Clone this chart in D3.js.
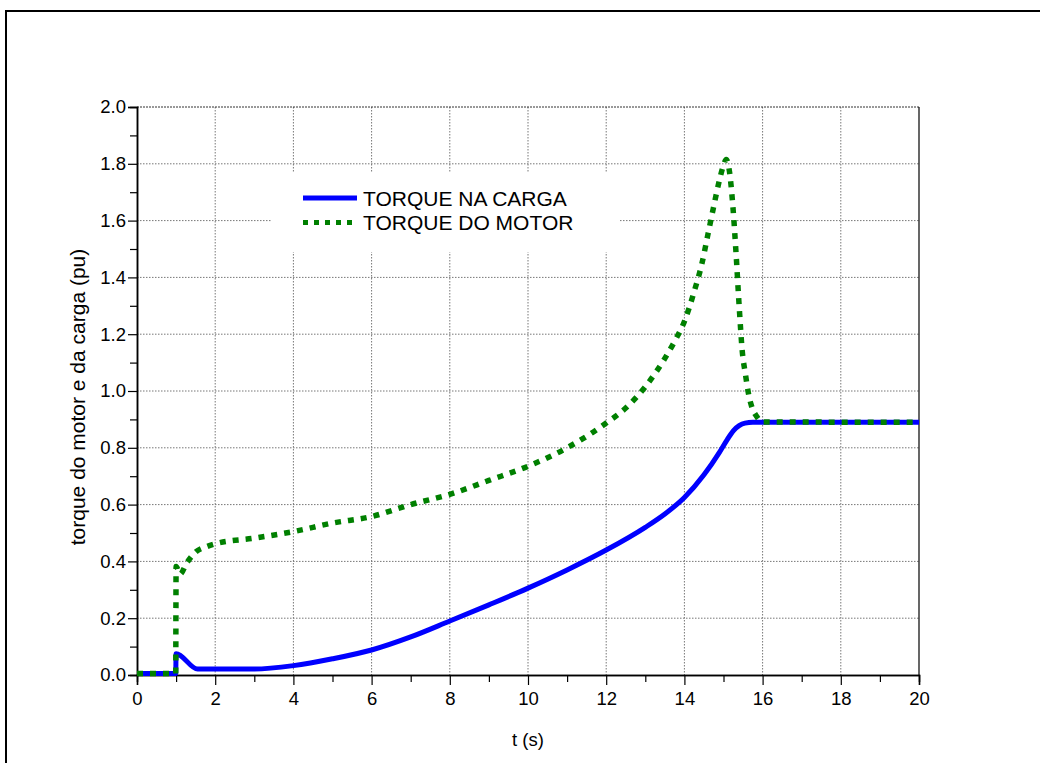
<!DOCTYPE html>
<html>
<head>
<meta charset="utf-8">
<script src="https://cdn.jsdelivr.net/npm/d3@7"></script>
<style>
	body { margin: 0; background: #fff; }
	text { font-family: "Liberation Sans", Arial, sans-serif; fill: #000; }
</style>
</head>
<body>
<svg id="chart" width="1040" height="763"></svg>
<script>
// load torque (blue)
var loadT = [0, 0.99, 1.0, 1.55, 3.0, 4, 5, 6, 7, 8, 9, 10, 11, 12, 13, 13.5, 14, 14.5, 14.9, 15.1, 15.25, 15.4, 15.55, 15.75, 16, 20];
var loadV = [0.005, 0.005, 0.075, 0.021, 0.021, 0.033, 0.057, 0.088, 0.134, 0.19, 0.247, 0.306, 0.37, 0.44, 0.52, 0.567, 0.625, 0.705, 0.785, 0.83, 0.86, 0.878, 0.887, 0.89, 0.89, 0.89];

// motor torque (green dotted)
var motorT = [0, 0.99, 1.0, 1.1, 1.27, 1.52, 1.78, 2, 3, 4, 5, 6, 7, 8, 9, 10, 11, 12, 12.5, 13, 13.5, 13.75, 14, 14.25, 14.45, 14.6, 14.75, 14.9, 15.0, 15.07, 15.15, 15.24, 15.32, 15.4, 15.48, 15.56, 15.64, 15.72, 15.85, 16.0, 20];
var motorV = [0.005, 0.005, 0.382, 0.355, 0.394, 0.435, 0.452, 0.462, 0.482, 0.505, 0.535, 0.558, 0.6, 0.636, 0.685, 0.735, 0.8, 0.887, 0.94, 1.015, 1.115, 1.175, 1.245, 1.35, 1.45, 1.55, 1.65, 1.745, 1.795, 1.815, 1.775, 1.65, 1.487, 1.30, 1.14, 1.06, 0.99, 0.946, 0.91, 0.891, 0.89];

var xMajor = [0, 2, 4, 6, 8, 10, 12, 14, 16, 18, 20];
var xMinor = [1, 3, 5, 7, 9, 11, 13, 15, 17, 19];
var yMajor = [0, 0.2, 0.4, 0.6, 0.8, 1.0, 1.2, 1.4, 1.6, 1.8, 2.0];
var yMinor = [0.1, 0.3, 0.5, 0.7, 0.9, 1.1, 1.3, 1.5, 1.7, 1.9];

var legendNames = ["TORQUE NA CARGA", "TORQUE DO MOTOR"];
var xTitle = "t (s)";
var yTitle = "torque do motor e da carga (pu)";

var svg = d3.select("#chart");
var plotL = 137, plotT = 107, plotR = 919, plotB = 675;

var x = d3.scaleLinear().domain([0, 20]).range([plotL, plotR]);
var y = d3.scaleLinear().domain([0, 2]).range([plotB, plotT]);

// outer frame (runs off the page right and bottom)
svg.append("rect")
	.attr("x", 6).attr("y", 11)
	.attr("width", 1100).attr("height", 800)
	.attr("fill", "none").attr("stroke", "#000").attr("stroke-width", 2);

// grid
var grid = svg.append("g").attr("stroke", "#777").attr("stroke-width", 1).attr("stroke-dasharray", "1.5,1.5");
grid.selectAll(".gx").data(xMajor.slice(1, -1)).enter().append("line")
	.attr("x1", function (d) { return x(d); }).attr("x2", function (d) { return x(d); })
	.attr("y1", plotT).attr("y2", plotB);
grid.selectAll(".gy").data(yMajor.slice(1, -1)).enter().append("line")
	.attr("y1", function (d) { return y(d); }).attr("y2", function (d) { return y(d); })
	.attr("x1", plotL).attr("x2", plotR);

// top and right edges
svg.append("line").attr("x1", plotL).attr("x2", plotR).attr("y1", plotT).attr("y2", plotT)
	.attr("stroke", "#333").attr("stroke-dasharray", "2,1");
svg.append("line").attr("x1", plotR).attr("x2", plotR).attr("y1", plotT).attr("y2", plotB)
	.attr("stroke", "#000").attr("stroke-width", 1.2);

// legend box hides the grid behind it
svg.append("rect").attr("x", 272).attr("y", 173).attr("width", 347).attr("height", 79).attr("fill", "#fff");

// axes
svg.append("g").attr("transform", "translate(0," + plotB + ")")
	.call(d3.axisBottom(x).tickValues(xMajor).tickSize(10).tickPadding(7).tickFormat(d3.format("d")));
svg.append("g").attr("transform", "translate(0," + plotB + ")")
	.call(d3.axisBottom(x).tickValues(xMinor).tickSize(7).tickFormat(""));
svg.append("g").attr("transform", "translate(" + plotL + ",0)")
	.call(d3.axisLeft(y).tickValues(yMajor).tickSize(9).tickPadding(2).tickFormat(d3.format(".1f")));
svg.append("g").attr("transform", "translate(" + plotL + ",0)")
	.call(d3.axisLeft(y).tickValues(yMinor).tickSize(7).tickFormat(""));

svg.selectAll(".domain").attr("stroke", "#000").attr("stroke-width", 1.5);
svg.selectAll(".tick line").attr("stroke", "#000").attr("stroke-width", 1.2);
svg.selectAll(".tick text").style("font-size", "18.5px").style("font-family", "Liberation Sans, Arial, sans-serif").attr("fill", "#000");

// axis titles
svg.append("text").attr("x", 528).attr("y", 746).attr("text-anchor", "middle")
	.style("font-size", "18.5px").text(xTitle);
svg.append("text").attr("transform", "translate(85,397) rotate(-90)").attr("text-anchor", "middle")
	.style("font-size", "21px").text(yTitle);

// curves
svg.append("clipPath").attr("id", "plotclip").append("rect")
	.attr("x", plotL).attr("y", plotT - 5).attr("width", plotR - plotL).attr("height", plotB - plotT + 8);

var line = d3.line()
	.curve(d3.curveMonotoneX)
	.x(function (d) { return x(d[0]); })
	.y(function (d) { return y(d[1]); });

var loadData = d3.zip(loadT, loadV);
var motorData = d3.zip(motorT, motorV);

svg.append("path").datum(loadData)
	.attr("clip-path", "url(#plotclip)")
	.attr("d", line)
	.attr("fill", "none").attr("stroke", "#0000ff").attr("stroke-width", 5)
	.attr("stroke-linejoin", "round");

svg.append("path").datum(motorData)
	.attr("clip-path", "url(#plotclip)")
	.attr("d", line)
	.attr("fill", "none").attr("stroke", "#008000").attr("stroke-width", 5.5)
	.attr("stroke-dasharray", "6,7");

// legend
var legend = svg.append("g");
legend.append("line").attr("x1", 303).attr("x2", 357).attr("y1", 198).attr("y2", 198)
	.attr("stroke", "#0000ff").attr("stroke-width", 5);
legend.append("line").attr("x1", 303).attr("x2", 352).attr("y1", 222.5).attr("y2", 222.5)
	.attr("stroke", "#008000").attr("stroke-width", 5).attr("stroke-dasharray", "5,6");
legend.selectAll("text.lg").data(legendNames).enter().append("text")
	.attr("x", 363)
	.attr("y", function (d, i) { return 205.5 + i * 24.5; })
	.style("font-size", "21px")
	.text(function (d) { return d; });
</script>
</body>
</html>
